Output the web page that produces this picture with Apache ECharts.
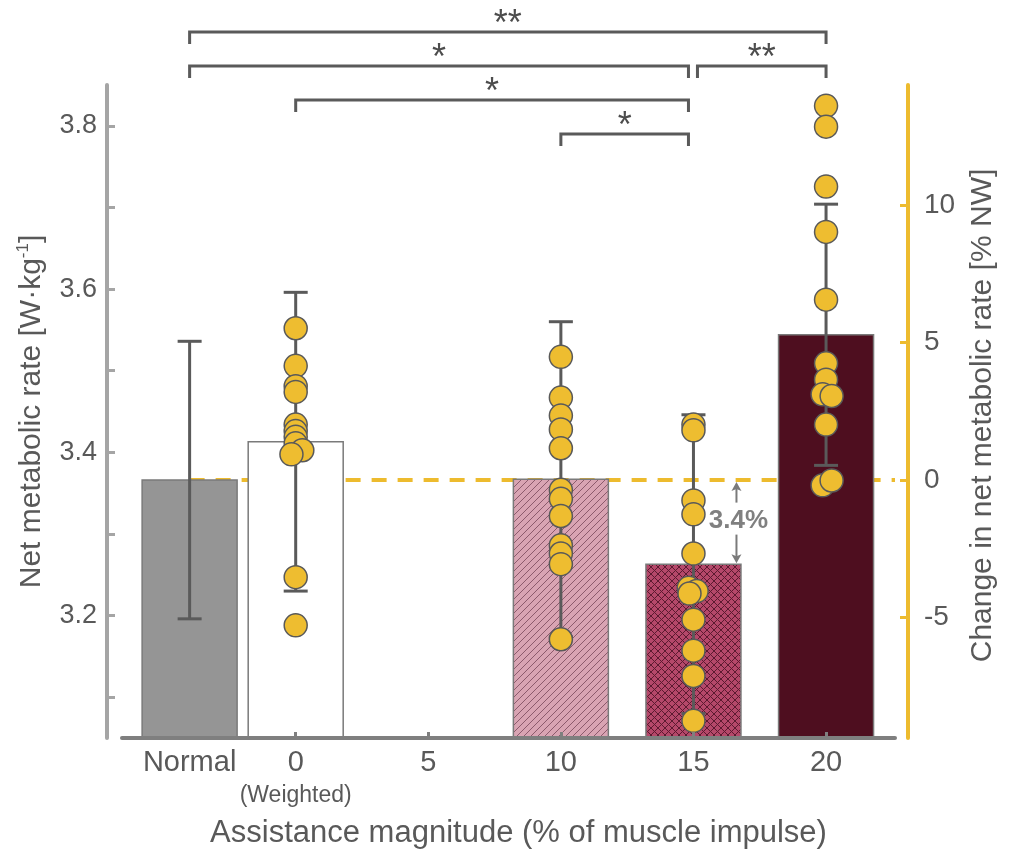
<!DOCTYPE html>
<html><head><meta charset="utf-8">
<script src="https://cdn.jsdelivr.net/npm/echarts@6/dist/echarts.min.js"></script>
<style>html,body{margin:0;padding:0;background:#fff}#c{width:1012px;height:851px}</style>
</head><body><div id="c"></div>
<script>
// ---------- data ----------
const tickCategories = ['Normal', '0', '5', '10', '15', '20'];
const tickPositions = [-4, 0, 5, 10, 15, 20];          // assistance magnitude (%), Normal shown left of 0
const barPositions = [-4, 0, 10, 15, 20];
const barMeans = [3.366, 3.413, 3.367, 3.263, 3.544];  // W/kg
const barSD = [0.170, 0.183, 0.193, 0.183, 0.160];

const dots0 = [3.552, 3.506, 3.481, 3.474, 3.434, 3.426, 3.419, 3.411, 3.4025, 3.3975, 3.247, 3.188];
const jitter0 = [0, 0, 0, 0, 0, 0, 0, 0, 0.25, -0.16, 0, 0];
const dots10 = [3.517, 3.467, 3.445, 3.428, 3.405, 3.354, 3.343, 3.322, 3.286, 3.276, 3.263, 3.171];
const jitter10 = [0, 0, 0, 0, 0, 0, 0, 0, 0, 0, 0, 0];
const dots15 = [3.434, 3.427, 3.341, 3.324, 3.276, 3.234, 3.230, 3.227, 3.195, 3.157, 3.126, 3.071];
const jitter15 = [0, 0, 0, 0, 0, -0.18, 0.12, -0.15, 0, 0, 0, 0];
const dots20 = [3.8245, 3.799, 3.7255, 3.670, 3.587, 3.509, 3.489, 3.471, 3.469, 3.434, 3.3595, 3.3655];
const jitter20 = [0, 0, 0, 0, 0, 0, 0, -0.13, 0.21, 0, -0.13, 0.21];

const leftTicks = [3.1, 3.2, 3.3, 3.4, 3.5, 3.6, 3.7, 3.8];
const leftLabels = [3.2, 3.4, 3.6, 3.8];
const rightTicks = [-5, 0, 5, 10];

const compFrom = [-4, -4, 15, 0, 10];
const compTo = [20, 15, 20, 15, 15];
const compLabel = ['**', '*', '**', '*', '*'];
const compLevel = [0, 1, 1, 2, 3];

const diffLabel = '3.4%';

// ---------- layout / style ----------
const Y_MIN = 3.05, Y_MAX = 3.85, X_MIN = -6.55, X_MAX = 22.6;
const baseMean = barMeans[0];
const rMin = (Y_MIN / baseMean - 1) * 100, rMax = (Y_MAX / baseMean - 1) * 100;
const FONT = '"Liberation Sans", Arial, Helvetica, sans-serif';
const TXT = '#595959';
const YELLOW = '#EDBB2E';

function hatch(bg, fg, cross) {
  const s = 7, c = document.createElement('canvas');
  c.width = s; c.height = s;
  const g = c.getContext('2d');
  g.fillStyle = bg; g.fillRect(0, 0, s, s);
  g.strokeStyle = fg; g.lineWidth = 1;
  g.beginPath();
  g.moveTo(-1, s + 1); g.lineTo(s + 1, -1);
  g.moveTo(-1, 1); g.lineTo(1, -1);
  g.moveTo(s - 1, s + 1); g.lineTo(s + 1, s - 1);
  if (cross) {
    g.moveTo(-1, -1); g.lineTo(s + 1, s + 1);
    g.moveTo(s - 1, -1); g.lineTo(s + 1, 1);
    g.moveTo(-1, s - 1); g.lineTo(1, s + 1);
  }
  g.stroke();
  return c;
}
const barFills = [
  '#959595',
  '#ffffff',
  { image: hatch('#d9a4b3', '#8c5a6c', false), repeat: 'repeat' },
  { image: hatch('#b5486a', '#5c1a30', true), repeat: 'repeat' },
  '#4e0e1f'
];

function nudge(x, side) {
  if (x === 15) return side === 'right' ? -5 : 4;
  return 0;
}

const chart = echarts.init(document.getElementById('c'), null, { renderer: 'canvas' });

const dotData = [];
[[0, dots0, jitter0], [10, dots10, jitter10], [15, dots15, jitter15], [20, dots20, jitter20]].forEach(([x, vs, js]) => {
  vs.forEach((v, i) => dotData.push([x + js[i], v]));
});

chart.setOption({
  animation: false,
  backgroundColor: '#fff',
  grid: { left: 122, right: 117, top: 85, bottom: 113, containLabel: false, outerBoundsMode: 'none' },
  xAxis: {
    type: 'value', min: X_MIN, max: X_MAX, z: 6,
    axisLine: { show: true, onZero: false, lineStyle: { color: '#7f7f7f', width: 4 } },
    axisTick: { show: true, inside: true, length: 6, customValues: [0, 5, 10, 15, 20], lineStyle: { color: '#7f7f7f', width: 3 } },
    axisLabel: {
      customValues: tickPositions, margin: 9,
      formatter: v => {
        const i = tickPositions.indexOf(v);
        const t = tickCategories[i];
        return t === '0' ? '{m|0}\n{w|(Weighted)}' : '{m|' + t + '}';
      },
      rich: {
        m: { fontSize: 29, lineHeight: 32, color: TXT, fontFamily: FONT },
        w: { fontSize: 23, lineHeight: 34, color: TXT, fontFamily: FONT }
      }
    },
    splitLine: { show: false },
    name: 'Assistance magnitude (% of muscle impulse)', nameLocation: 'middle', nameGap: 80,
    nameTextStyle: { fontSize: 31, color: TXT, fontFamily: FONT, padding: [0, 0, 0, 20] }
  },
  yAxis: [{
    type: 'value', min: Y_MIN, max: Y_MAX, position: 'left', offset: 15,
    axisLine: { show: true, onZero: false, lineStyle: { color: '#a5a5a5', width: 4 } },
    axisTick: { show: true, inside: true, length: 8, customValues: leftTicks, lineStyle: { color: '#a5a5a5', width: 3 } },
    axisLabel: { customValues: leftLabels, formatter: v => v.toFixed(1), fontSize: 27, color: TXT, margin: 10, fontFamily: FONT },
    splitLine: { show: false },
    name: '{a|Net metabolic rate [W·kg}{s|-1}{a|]}', nameLocation: 'middle', nameGap: 58, nameRotate: 90,
    nameTextStyle: {
      rich: {
        a: { fontSize: 30, color: TXT, fontFamily: FONT, lineHeight: 34 },
        s: { fontSize: 17, color: TXT, fontFamily: FONT, lineHeight: 34, verticalAlign: 'top', padding: [0, 0, 14, 0] }
      }
    }
  }, {
    type: 'value', min: rMin, max: rMax, position: 'right', offset: 13,
    axisLine: { show: true, onZero: false, lineStyle: { color: YELLOW, width: 4 } },
    axisTick: { show: true, inside: true, length: 8, customValues: rightTicks, lineStyle: { color: YELLOW, width: 3 } },
    axisLabel: { customValues: rightTicks, formatter: v => String(v), fontSize: 28, color: TXT, margin: 16, fontFamily: FONT },
    splitLine: { show: false },
    name: 'Change in net metabolic rate [% NW]', nameLocation: 'middle', nameGap: 60, nameRotate: 90,
    nameTextStyle: { fontSize: 30, color: TXT, fontFamily: FONT, padding: [0, 8, 0, 0] }
  }],
  series: [
    { // dashed baseline (Normal mean)
      type: 'line', z: 1, yAxisIndex: 0, symbol: 'none', silent: true,
      data: [[barPositions[0], baseMean], [X_MAX, baseMean]],
      lineStyle: { color: YELLOW, width: 4, type: [15, 11] }
    },
    { // bars
      type: 'custom', z: 2, yAxisIndex: 0,
      data: barPositions.map((x, i) => [x, barMeans[i], i]),
      renderItem: (params, api) => {
        const x = api.value(0), v = api.value(1), i = api.value(2);
        const top = api.coord([x, v]), bot = api.coord([x, Y_MIN]);
        const w = 95;
        return { type: 'rect', shape: { x: top[0] - w / 2, y: top[1], width: w, height: bot[1] - top[1] },
          style: { fill: barFills[i], stroke: '#7a7a7a', lineWidth: 1.5 } };
      }
    },
    { // error bars
      type: 'custom', z: 3, yAxisIndex: 0,
      data: barPositions.map((x, i) => [x, barMeans[i] + barSD[i], barMeans[i] - barSD[i]]),
      renderItem: (params, api) => {
        const hi = api.coord([api.value(0), api.value(1)]), lo = api.coord([api.value(0), api.value(2)]);
        const c = 12, st = { stroke: '#5a5a5a', lineWidth: 3 };
        return { type: 'group', children: [
          { type: 'line', shape: { x1: hi[0], y1: hi[1], x2: lo[0], y2: lo[1] }, style: st },
          { type: 'line', shape: { x1: hi[0] - c, y1: hi[1], x2: hi[0] + c, y2: hi[1] }, style: st },
          { type: 'line', shape: { x1: lo[0] - c, y1: lo[1], x2: lo[0] + c, y2: lo[1] }, style: st }
        ] };
      }
    },
    { // individual participants
      type: 'scatter', z: 4, yAxisIndex: 0, symbolSize: 23, data: dotData,
      itemStyle: { color: '#EEBD30', borderColor: '#595959', borderWidth: 1.5, opacity: 1 }
    },
    { // 3.4% annotation
      type: 'custom', z: 5, yAxisIndex: 0,
      data: [[barPositions[3], baseMean, barMeans[3]]],
      renderItem: (params, api) => {
        const pb = api.coord([api.value(0), api.value(1)]), p15 = api.coord([api.value(0), api.value(2)]);
        const x = pb[0] + 43, yb = pb[1] + 2, y15 = p15[1] - 1, mid = (yb + y15) / 2 - 2;
        const st = { stroke: '#7a7a7a', lineWidth: 2 };
        const hs = { fill: '#7a7a7a' };
        return { type: 'group', children: [
          { type: 'line', shape: { x1: x, y1: yb + 6, x2: x, y2: mid - 18 }, style: st },
          { type: 'polygon', shape: { points: [[x, yb], [x - 5, yb + 9], [x, yb + 7], [x + 5, yb + 9]] }, style: hs },
          { type: 'line', shape: { x1: x, y1: mid + 14, x2: x, y2: y15 - 6 }, style: st },
          { type: 'polygon', shape: { points: [[x, y15], [x - 5, y15 - 9], [x, y15 - 7], [x + 5, y15 - 9]] }, style: hs },
          { type: 'text', style: { text: diffLabel, x: x + 2, y: mid, align: 'center', verticalAlign: 'middle',
            fontSize: 26, fontWeight: 'bold', fill: '#808080', fontFamily: FONT } }
        ] };
      }
    },
    { // significance brackets
      type: 'custom', z: 5, yAxisIndex: 0, clip: false,
      data: compFrom.map((f, i) => [f, compTo[i], compLevel[i]]),
      renderItem: (params, api) => {
        const i = params.dataIndex;
        const x1 = api.coord([compFrom[i], Y_MAX])[0] + nudge(compFrom[i], 'left');
        const x2 = api.coord([compTo[i], Y_MAX])[0] + nudge(compTo[i], 'right');
        const top = api.coord([0, Y_MAX])[1];
        const y = top - 53 + 34 * compLevel[i];
        return { type: 'group', children: [
          { type: 'polyline', shape: { points: [[x1, y + 12], [x1, y], [x2, y], [x2, y + 12]] },
            style: { stroke: '#5a5a5a', lineWidth: 3, fill: null } },
          { type: 'text', style: { text: compLabel[i], x: (x1 + x2) / 2, y: y + 11, align: 'center', verticalAlign: 'bottom',
            fontSize: 36, fill: '#4d4d4d', fontFamily: FONT } }
        ] };
      }
    }
  ]
});
</script>
</body></html>
